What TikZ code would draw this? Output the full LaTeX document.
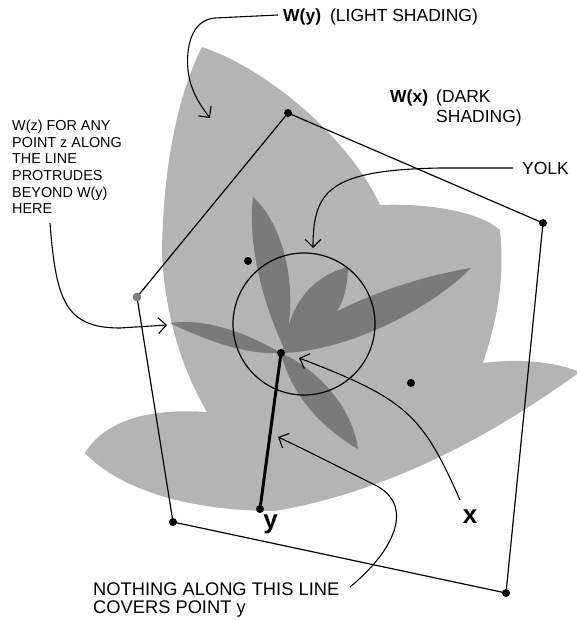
\documentclass[tikz,border=0pt]{standalone}
\usepackage{fontspec}
\setmainfont{Liberation Sans}
\usetikzlibrary{arrows.meta}
\definecolor{lightsh}{RGB}{180,180,180}
\definecolor{darksh}{RGB}{122,122,122}
\definecolor{graydot}{RGB}{125,125,125}
\begin{document}
\begin{tikzpicture}[x=1pt,y=-1pt,
  edge/.style={line width=1.2pt,black},
  yolkline/.style={line width=1.2pt,black},
  thickline/.style={line width=3pt,black},
  pointer/.style={line width=1.1pt,black,-{Straight Barb[length=8pt,width=16pt]}},
  dot/.style={circle,fill=black,inner sep=0pt,minimum size=8pt},
  greydot/.style={circle,fill=graydot,draw=black!60,line width=0.4pt,inner sep=0pt,minimum size=8pt},
  lbl/.style={inner sep=0pt,anchor=base west,align=left,font=\fontsize{17.5}{20}\selectfont},
  note/.style={inner sep=0pt,anchor=base west,align=left,font=\fontsize{14.4}{16.6}\selectfont},
  bignote/.style={inner sep=0pt,anchor=base west,align=left,font=\fontsize{18.3}{18.3}\selectfont},
  ptlabel/.style={inner sep=0pt,anchor=base,font=\bfseries\fontsize{26}{30}\selectfont}
]
\useasboundingbox (0,0) rectangle (576,620);

% W(y): light shading
\fill[lightsh] (202,47) .. controls (270,70) and (350,140) .. (380,205)
  .. controls (430,203) and (480,212) .. (500,230)
  .. controls (505,280) and (497,320) .. (483,363)
  .. controls (520,358) and (555,362) .. (580,372)
  .. controls (520,415) and (410,488) .. (275,511)
  .. controls (190,511) and (120,490) .. (85,453)
  .. controls (105,420) and (150,408) .. (207,412)
  .. controls (185,375) and (165,320) .. (162,253)
  .. controls (163,160) and (180,90) .. (202,47) -- cycle;

% W(x): dark shading petals
\fill[darksh] (253,197) .. controls (284,225) and (300,290) .. (284,348)
  .. controls (266,310) and (247,250) .. (253,197) -- cycle;
\fill[darksh] (284,350) .. controls (288,305) and (312,276) .. (348,267)
  .. controls (347,300) and (340,325) .. (284,352) -- cycle;
\fill[darksh] (281,353) .. controls (345,352) and (430,310) .. (471,268)
  .. controls (410,278) and (340,303) .. (286,342) -- cycle;
\fill[darksh] (281,353) .. controls (245,332) and (205,318) .. (170,323)
  .. controls (205,340) and (245,355) .. (281,353) -- cycle;
\fill[darksh] (281,353) .. controls (315,368) and (352,405) .. (358,449)
  .. controls (325,430) and (292,398) .. (281,353) -- cycle;

% points
\coordinate (pT) at (288,113);
\coordinate (pR) at (543,223);
\coordinate (pBR) at (506,593);
\coordinate (pBL) at (173,522);
\coordinate (pL) at (137,297);
\coordinate (py) at (260,509);
\coordinate (px) at (281,353);

% pentagon
\draw[edge,line join=round] (pT) -- (pR) -- (pBR) -- (pBL) -- (pL) -- cycle;

% yolk circle
\node[draw,yolkline,circle,minimum size=142pt,inner sep=0pt] (yolk) at (304,324) {};

% thick line y -- x
\draw[thickline] (py) -- (px);

% labels (base anchor of multi-line nodes = baseline of last line)
\node[lbl] (wylab) at (283,21.5) {\textbf{W(y)}\hspace{9pt}(LIGHT SHADING)};
\node[lbl] (wxlab) at (390,103) {\textbf{W(x)}};
\node[lbl] (darklab) at (436,123) {(DARK\\SHADING)};
\node[lbl] (yolklab) at (522,175) {YOLK};
\node[note] (ztext) at (12,213.7) {W(z) FOR ANY\\POINT z ALONG\\THE LINE\\PROTRUDES\\BEYOND W(y)\\HERE};
\node[bignote] (nothing) at (93,613.3) {NOTHING ALONG THIS LINE\\COVERS POINT y};
\node[ptlabel] (xlab) at (470,523) {x};
\node[ptlabel] (ylab) at (270.5,528.5) {y};

% pointer ends
\coordinate (wyS) at (278,15);
\coordinate (wyE) at (210,118);
\coordinate (yoS) at (513,168);
\coordinate (yoE) at (313,248);
\coordinate (zS) at (50,223);
\coordinate (zE) at (167,325);
\coordinate (xS) at (460,500);
\coordinate (xE) at (299,358);
\coordinate (nS) at (350,587);
\coordinate (nE) at (278,437);

\draw[pointer] (wyS) -- (215,18) .. controls (190,20) and (186,50) .. (188,70)
  .. controls (190,90) and (200,105) .. (wyE);
\draw[pointer] (yoS) -- (440,168) .. controls (330,170) and (313,190) .. (yoE);
\draw[pointer] (zS) .. controls (56,300) and (65,328) .. (120,328) -- (zE);
\draw[pointer] (xS) .. controls (422,414) and (406,399) .. (xE);
\draw[pointer] (nS) .. controls (395,550) and (415,505) .. (375,485)
  .. controls (343,469) and (310,452) .. (nE);

% dots
\node[dot] (dT) at (pT) {};
\node[dot] (dR) at (pR) {};
\node[dot] (dBR) at (pBR) {};
\node[dot] (dBL) at (pBL) {};
\node[greydot] (dL) at (pL) {};
\node[dot] (dy) at (py) {};
\node[dot] (dx) at (px) {};
\node[dot] (d1) at (248,261) {};
\node[dot] (d2) at (411,383) {};
\end{tikzpicture}
\end{document}
